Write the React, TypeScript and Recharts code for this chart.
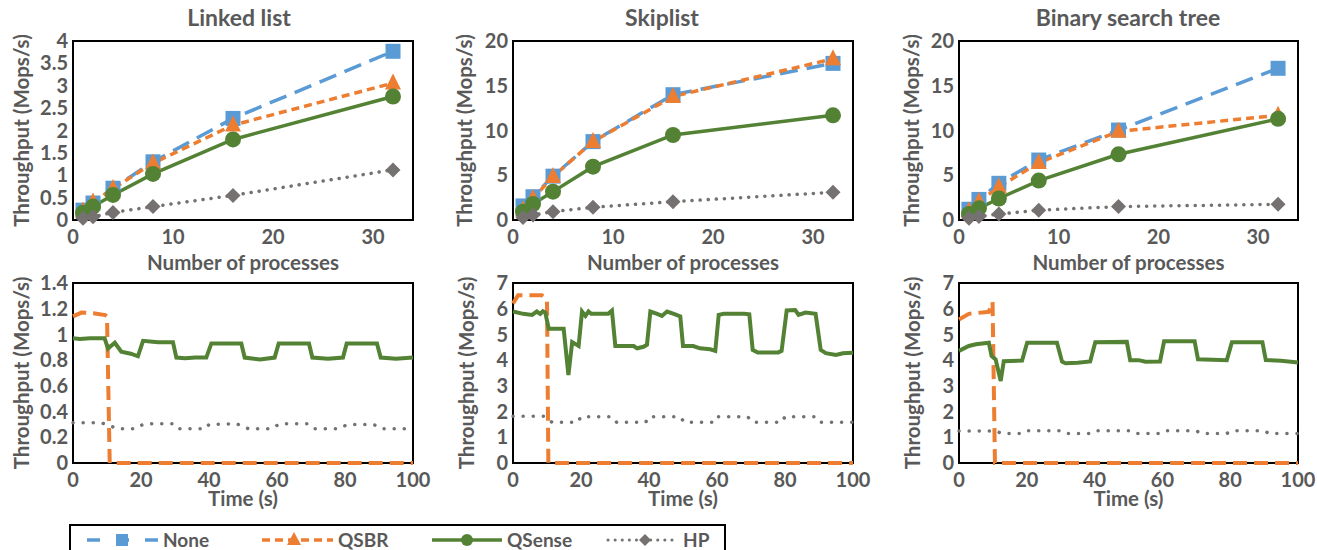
import React from 'react';
import { LineChart, Line, XAxis, YAxis, ReferenceArea } from 'recharts';

const FONT = 'Lato, "Liberation Sans", Arial, sans-serif';
const GREY = '#595959';
const BLUE = '#5B9BD5';
const ORANGE = '#ED7D31';
const GREEN = '#548235';
const DGREY = '#767171';

// ---- top row: throughput vs. number of processes ----
const procs = [1, 2, 4, 8, 16, 32];

const llNone = [0.22, 0.38, 0.71, 1.3, 2.27, 3.77];
const llQsbr = [0.2, 0.4, 0.7, 1.27, 2.12, 3.06];
const llQsense = [0.16, 0.3, 0.56, 1.03, 1.8, 2.76];
const llHp = [0.04, 0.07, 0.17, 0.3, 0.55, 1.12];

const slNone = [1.57, 2.6, 4.9, 8.76, 14.0, 17.5];
const slQsbr = [1.1, 2.4, 4.85, 8.76, 13.8, 18.0];
const slQsense = [0.93, 1.79, 3.17, 5.96, 9.5, 11.7];
const slHp = [0.27, 0.56, 0.93, 1.42, 2.05, 3.1];

const bstNone = [1.2, 2.3, 4.1, 6.7, 10.05, 16.95];
const bstQsbr = [1.0, 2.05, 3.7, 6.4, 9.9, 11.7];
const bstQsense = [0.67, 1.3, 2.4, 4.4, 7.34, 11.3];
const bstHp = [0.2, 0.4, 0.67, 1.1, 1.5, 1.75];

const procTicks = [0, 10, 20, 30];
const llTicks = [0, 0.5, 1, 1.5, 2, 2.5, 3, 3.5, 4];
const tree20Ticks = [0, 5, 10, 15, 20];

// ---- bottom row: throughput over time (s, Mops/s) ----
type Pt = [number, number];

const llQsenseT: Pt[] = [[0, 0.97], [2, 0.965], [5, 0.97], [9.3, 0.97], [10.3, 0.89], [12.3, 0.935], [14.2, 0.865], [17, 0.85], [19.1, 0.83], [20.6, 0.95], [25, 0.94], [29.4, 0.94], [30.4, 0.82], [33, 0.815], [36, 0.82], [39.2, 0.82], [40.7, 0.93], [49.5, 0.93], [50.5, 0.82], [55, 0.805], [59.3, 0.82], [60.5, 0.93], [69.4, 0.93], [70.4, 0.82], [75, 0.81], [79.4, 0.82], [80.5, 0.93], [89.4, 0.93], [90.5, 0.82], [95, 0.81], [100, 0.82]];
const llQsbrT: Pt[] = [[0, 1.14], [2.5, 1.17], [6, 1.165], [9.5, 1.15], [10, 1.14], [10.8, 0], [100, 0]];
const llHpT: Pt[] = [[0, 0.314], [8, 0.314], [10, 0.3], [11.8, 0.28], [13, 0.267], [18, 0.267], [19, 0.285], [21.6, 0.306], [29.5, 0.306], [31, 0.267], [39, 0.267], [40, 0.3], [48, 0.306], [50, 0.285], [51.5, 0.267], [58.5, 0.267], [59.5, 0.285], [61, 0.306], [69, 0.306], [71, 0.267], [78, 0.267], [79.5, 0.285], [81, 0.3], [88, 0.3], [89.5, 0.29], [91, 0.267], [100, 0.267]];

const slQsenseT: Pt[] = [[0, 5.89], [3, 5.8], [5.6, 5.76], [7, 5.89], [8, 5.8], [8.8, 5.9], [9.5, 5.85], [10.5, 5.22], [14.9, 5.22], [16.3, 3.42], [17.4, 4.7], [19.3, 4.55], [20.3, 5.89], [21.3, 5.72], [22.2, 5.89], [23, 5.8], [28, 5.8], [29.1, 5.93], [30.1, 4.55], [35.5, 4.55], [36.5, 4.46], [38.4, 4.52], [39.4, 4.6], [40.4, 5.89], [42.4, 5.8], [43.8, 5.72], [45.3, 5.89], [47.3, 5.8], [49.2, 5.7], [50, 4.55], [53, 4.55], [55, 4.46], [58, 4.42], [59.5, 4.36], [60.5, 5.76], [62, 5.8], [68, 5.8], [69.5, 5.78], [70.5, 4.4], [72, 4.3], [78, 4.3], [79, 4.36], [80.5, 5.93], [83, 5.95], [84, 5.76], [86, 5.85], [89, 5.8], [90.5, 4.4], [92, 4.27], [95, 4.2], [97, 4.27], [100, 4.29]];
const slQsbrT: Pt[] = [[0, 6.2], [1.5, 6.52], [8.5, 6.52], [9.5, 6.42], [10, 6.3], [10.4, 0], [100, 0]];
const slHpT: Pt[] = [[0, 1.82], [9, 1.82], [10, 1.75], [11.5, 1.58], [19, 1.58], [20, 1.8], [29, 1.8], [30.5, 1.58], [39, 1.58], [40, 1.8], [49, 1.8], [50.5, 1.58], [59, 1.58], [60, 1.8], [69, 1.8], [70.5, 1.58], [79, 1.58], [80, 1.8], [89, 1.8], [90.5, 1.58], [100, 1.58]];

const bstQsenseT: Pt[] = [[0, 4.36], [2.9, 4.55], [5, 4.62], [8.8, 4.68], [9.6, 4.16], [10.8, 4.03], [12.3, 3.19], [13.2, 3.96], [18.6, 3.98], [20.1, 4.68], [28.9, 4.68], [30.4, 3.94], [31.4, 3.88], [35, 3.9], [38.7, 3.95], [40.2, 4.7], [49.5, 4.71], [50.5, 4.0], [53, 4.0], [55, 3.94], [59.3, 3.95], [60.5, 4.73], [69.5, 4.73], [70.5, 4.03], [79, 4.0], [80.5, 4.7], [89.5, 4.7], [90.5, 4.0], [95, 3.98], [100, 3.91]];
const bstQsbrT: Pt[] = [[0, 5.58], [2.9, 5.8], [8.8, 5.88], [9.9, 6.26], [10.6, 0], [100, 0]];
const bstHpT: Pt[] = [[0, 1.24], [11, 1.24], [12.5, 1.15], [19, 1.15], [20.5, 1.25], [29.5, 1.25], [31, 1.15], [39, 1.15], [40.5, 1.25], [50, 1.25], [51.5, 1.15], [59, 1.15], [60.5, 1.25], [70, 1.25], [71.5, 1.15], [79, 1.15], [80.5, 1.25], [90, 1.25], [91.5, 1.15], [100, 1.15]];

const timeTicks = [0, 20, 40, 60, 80, 100];
const llTimeTicks = [0, 0.2, 0.4, 0.6, 0.8, 1, 1.2, 1.4];
const sevenTicks = [0, 1, 2, 3, 4, 5, 6, 7];

const toRows = (a: number[], b: number[], c: number[], d: number[]) =>
  procs.map((p, i) => ({ x: p, none: a[i], qsbr: b[i], qsense: c[i], hp: d[i] }));
const toPts = (pts: Pt[]) => pts.map(([x, v]) => ({ x, v }));

// markers
const square = (s: number) => (p: any) =>
  p.cx == null ? <g key={p.index} /> : <rect key={p.index} x={p.cx - s / 2} y={p.cy - s / 2} width={s} height={s} fill={BLUE} />;
const triangle = (s: number) => (p: any) =>
  p.cx == null ? <g key={p.index} /> : (
    <polygon key={p.index} fill={ORANGE}
      points={`${p.cx},${p.cy - s * 0.6} ${p.cx + s / 2},${p.cy + s * 0.4} ${p.cx - s / 2},${p.cy + s * 0.4}`} />
  );
const circle = (r: number) => (p: any) =>
  p.cx == null ? <g key={p.index} /> : <circle key={p.index} cx={p.cx} cy={p.cy} r={r} fill={GREEN} />;
const diamond = (s: number) => (p: any) =>
  p.cx == null ? <g key={p.index} /> : (
    <polygon key={p.index} fill={DGREY}
      points={`${p.cx},${p.cy - s / 2} ${p.cx + s / 2},${p.cy} ${p.cx},${p.cy + s / 2} ${p.cx - s / 2},${p.cy}`} />
  );

const tickStyle = { fill: GREY, fontSize: 20, fontWeight: 700, fontFamily: FONT };
const labelStyle = { fill: GREY, fontSize: 20.5, fontWeight: 700, fontFamily: FONT };

type LineCfg = { id: string; stroke: string; width: number; dash?: string; cap?: 'round' | 'butt'; dot: any; data?: any[] };

function Panel(props: {
  left: number; top: number; width: number; height: number; yW: number; mr: number; mt: number; xh: number;
  xDomain: number[]; xTicks: number[]; yDomain: number[]; yTicks: number[]; xLabel: string;
  yLabelX: number; xLabelOff: number; xTickMargin: number; lines: LineCfg[]; data?: any[];
}) {
  const p = props;
  return (
    <div style={{ position: 'absolute', left: p.left, top: p.top }}>
      <LineChart width={p.width} height={p.height} data={p.data}
        margin={{ top: p.mt, right: p.mr, left: 0, bottom: 0 }}>
        <ReferenceArea x1={p.xDomain[0]} x2={p.xDomain[1]} y1={p.yDomain[0]} y2={p.yDomain[1]}
          fill="none" stroke="#000" strokeWidth={2} />
        <XAxis type="number" dataKey="x" domain={p.xDomain} ticks={p.xTicks} interval={0}
          axisLine={false} tickLine={false} tickSize={0} tickMargin={p.xTickMargin}
          height={p.xh} tick={tickStyle}
          label={{ value: p.xLabel, position: 'insideBottom', offset: p.xLabelOff, fill: GREY, style: labelStyle }} />
        <YAxis type="number" domain={p.yDomain} ticks={p.yTicks} interval={0}
          axisLine={false} tickLine={false} tickSize={0} tickMargin={5}
          width={p.yW} tick={tickStyle}
          label={{ value: 'Throughput (Mops/s)', angle: -90, position: 'insideLeft', offset: p.yLabelX, fill: GREY,
            style: { ...labelStyle, textAnchor: 'middle' } }} />
        {p.lines.map((l) => (
          <Line key={l.id} type="linear" data={l.data} dataKey={l.data ? 'v' : l.id}
            stroke={l.stroke} strokeWidth={l.width} strokeDasharray={l.dash} strokeLinecap={l.cap || 'butt'}
            dot={l.dot} activeDot={false} isAnimationActive={false} />
        ))}
      </LineChart>
    </div>
  );
}

const topLines: LineCfg[] = [
  { id: 'none', stroke: BLUE, width: 3.5, dash: '18 9', dot: square(15) },
  { id: 'qsbr', stroke: ORANGE, width: 3.5, dash: '8 5', dot: triangle(16) },
  { id: 'qsense', stroke: GREEN, width: 3.5, dot: circle(8) },
  { id: 'hp', stroke: DGREY, width: 3.5, dash: '0.1 8', cap: 'round', dot: diamond(15) },
];

const timeLines = (qsbr: Pt[], qsense: Pt[], hp: Pt[]): LineCfg[] => [
  { id: 'qsbr', stroke: ORANGE, width: 4, dash: '14 7', dot: false, data: toPts(qsbr) },
  { id: 'qsense', stroke: GREEN, width: 4, dot: false, data: toPts(qsense) },
  { id: 'hp', stroke: DGREY, width: 3.5, dash: '0.1 10', cap: 'round', dot: false, data: toPts(hp) },
];

const titles = [
  { text: 'Linked list', x: 239 },
  { text: 'Skiplist', x: 662 },
  { text: 'Binary search tree', x: 1128 },
];

const cols = [
  { left: 0, width: 440, yW: 73, mr: 27, lx: 22, lxb: 22 },
  { left: 440, width: 440, yW: 73, mr: 27, lx: 25, lxb: 27 },
  { left: 880, width: 437, yW: 79, mr: 19, lx: 32, lxb: 33 },
];

function Legend() {
  const y = 540;
  return (
    <svg width={760} height={35} style={{ position: 'absolute', left: 0, top: 515 }} viewBox="0 515 760 35">
      <rect x={70} y={525} width={655} height={40} fill="none" stroke="#000" strokeWidth={2} />
      <line x1={87} x2={159} y1={y} y2={y} stroke={BLUE} strokeWidth={3.5} strokeDasharray="13 16" />
      <rect x={116} y={y - 6} width={12} height={12} fill={BLUE} />
      <text x={163} y={y + 7} fill={GREY} fontSize={19} fontWeight={700} fontFamily={FONT}>None</text>

      <line x1={262} x2={333} y1={y} y2={y} stroke={ORANGE} strokeWidth={3.5} strokeDasharray="8 5" />
      <polygon points={`294,${y - 8} 301,${y + 5} 287,${y + 5}`} fill={ORANGE} />
      <text x={338} y={y + 7} fill={GREY} fontSize={19} fontWeight={700} fontFamily={FONT}>QSBR</text>

      <line x1={432} x2={502} y1={y} y2={y} stroke={GREEN} strokeWidth={3.5} />
      <circle cx={467} cy={y} r={6} fill={GREEN} />
      <text x={507} y={y + 7} fill={GREY} fontSize={19} fontWeight={700} fontFamily={FONT}>QSense</text>

      <line x1={608} x2={673} y1={y} y2={y} stroke={DGREY} strokeWidth={3} strokeDasharray="0.1 7" strokeLinecap="round" />
      <polygon points={`645,${y - 6} 651,${y} 645,${y + 6} 639,${y}`} fill={DGREY} />
      <text x={683} y={y + 7} fill={GREY} fontSize={19} fontWeight={700} fontFamily={FONT}>HP</text>
    </svg>
  );
}

export default function App() {
  const topData = [
    { rows: toRows(llNone, llQsbr, llQsense, llHp), yDomain: [0, 4], yTicks: llTicks },
    { rows: toRows(slNone, slQsbr, slQsense, slHp), yDomain: [0, 20], yTicks: tree20Ticks },
    { rows: toRows(bstNone, bstQsbr, bstQsense, bstHp), yDomain: [0, 20], yTicks: tree20Ticks },
  ];
  const bottomData = [
    { lines: timeLines(llQsbrT, llQsenseT, llHpT), yDomain: [0, 1.4], yTicks: llTimeTicks },
    { lines: timeLines(slQsbrT, slQsenseT, slHpT), yDomain: [0, 7], yTicks: sevenTicks },
    { lines: timeLines(bstQsbrT, bstQsenseT, bstHpT), yDomain: [0, 7], yTicks: sevenTicks },
  ];
  return (
    <div style={{ position: 'absolute', left: 0, top: 0, width: 1317, height: 550, background: '#fff', overflow: 'hidden', fontFamily: FONT }}>
      {titles.map((t) => (
        <div key={t.text} style={{ position: 'absolute', left: t.x, top: 3, transform: 'translateX(-50%)', whiteSpace: 'nowrap',
          fontSize: 23, fontWeight: 700, color: GREY, lineHeight: '28px' }}>{t.text}</div>
      ))}
      {cols.map((c, i) => (
        <Panel key={'t' + i} left={c.left} top={0} width={c.width} height={275} yW={c.yW} mr={c.mr} mt={41} xh={55}
          xDomain={[0, 34]} xTicks={procTicks} yDomain={topData[i].yDomain} yTicks={topData[i].yTicks}
          xLabel="Number of processes" yLabelX={c.lx} xLabelOff={5} xTickMargin={10}
          lines={topLines} data={topData[i].rows} />
      ))}
      {cols.map((c, i) => (
        <Panel key={'b' + i} left={c.left} top={270} width={c.width} height={240} yW={c.yW} mr={c.mr} mt={13} xh={47}
          xDomain={[0, 100]} xTicks={timeTicks} yDomain={bottomData[i].yDomain} yTicks={bottomData[i].yTicks}
          xLabel="Time (s)" yLabelX={c.lxb} xLabelOff={4} xTickMargin={10}
          lines={bottomData[i].lines} />
      ))}
      <Legend />
    </div>
  );
}
